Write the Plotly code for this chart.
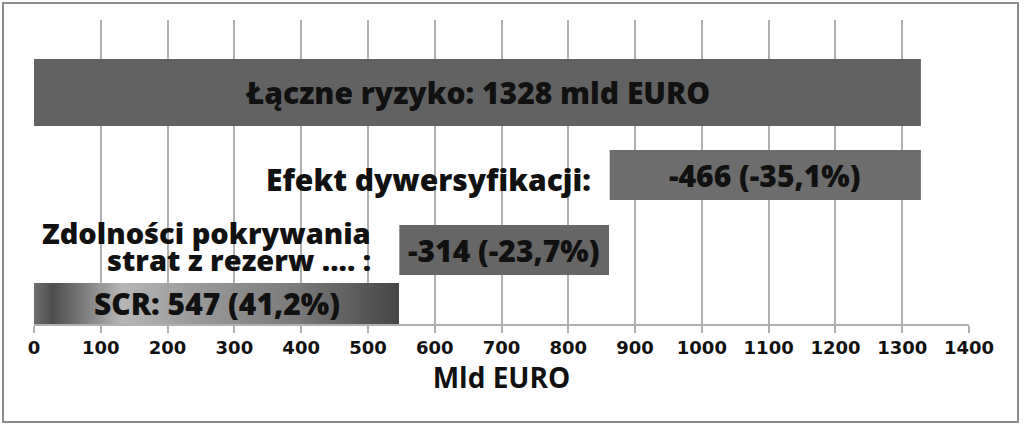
import numpy as np
import plotly.graph_objects as go

# ---- data ----
total_risk = 1328
diversification = -466
loss_absorbing = -314
scr = 547
total_label = "Łączne ryzyko: 1328 mld EURO"
div_label = "-466 (-35,1%)"
loss_label = "-314 (-23,7%)"
scr_label = "SCR: 547 (41,2%)"
div_name = "Efekt dywersyfikacji:"
loss_name_lines = ["Zdolności pokrywania", "strat z rezerw .... :"]
x_ticks = list(range(0, 1401, 100))
x_title = "Mld EURO"

# ---- layout (row positions in a pixel-like y axis, top=20, bottom=324) ----
row_pos = [92.5, 175, 250, 303.5]
row_h = [67, 50, 50, 41]
bar_colors = ["#626262", "#6d6d6d", "#666666", "rgba(0,0,0,0)"]

bases = [0, total_risk + diversification, scr, 0]
lengths = [total_risk, -diversification, -loss_absorbing, scr]
labels = [total_label, div_label, loss_label, scr_label]

BAR_FONT = dict(family="Open Sans", size=30, color="#111111", weight=800)
SIDE_FONT = dict(family="Open Sans", size=29, color="#111111", weight=800)

fig = go.Figure()

# gradient fill for SCR bar
n = 240
edges = np.linspace(0, scr, n + 1)
ramp = np.linspace(0, 1, n)
fig.add_trace(go.Heatmap(
    x=edges, y=[row_pos[3] - row_h[3] / 2, row_pos[3] + row_h[3] / 2],
    z=[ramp],
    colorscale=[[0, "#6c6c6c"], [0.05, "#4e4e4e"], [0.24, "#b6b6b6"],
                [0.45, "#999999"], [0.72, "#7a7a7a"], [1, "#464646"]],
    showscale=False, hoverinfo="skip", zmin=0, zmax=1))

fig.add_trace(go.Bar(
    orientation="h", y=row_pos, x=lengths, base=bases, width=row_h,
    marker=dict(color=bar_colors, line=dict(width=0)),
    hoverinfo="skip"))

# bar labels
for b, L, yv, lab in zip(bases, lengths, row_pos, labels):
    fig.add_annotation(x=b + L / 2, y=yv, text=lab, showarrow=False,
                       font=BAR_FONT, xanchor="center", yanchor="middle")

# outside labels
fig.add_annotation(x=bases[1], y=179, text=div_name, showarrow=False,
                   font=BAR_FONT, xanchor="right", yanchor="middle", xshift=-17)
for i, line in enumerate(loss_name_lines):
    fig.add_annotation(x=bases[2], y=232 + 27 * i, text=line, showarrow=False,
                       font=SIDE_FONT, xanchor="right", yanchor="middle", xshift=-26)

# outer frame
fig.add_shape(type="rect", xref="paper", yref="paper",
              x0=(3 - 34) / 935, x1=(1018 - 34) / 935,
              y0=(324 - 422) / 304, y1=(324 - 3) / 304,
              line=dict(color="#8c8c8c", width=2), fillcolor="rgba(0,0,0,0)", layer="below")

fig.update_layout(
    width=1023, height=425,
    margin=dict(l=34, r=54, t=20, b=101),
    paper_bgcolor="white", plot_bgcolor="white",
    showlegend=False, barmode="overlay",
    xaxis=dict(range=[0, 1400], tickvals=x_ticks, ticktext=[str(t) for t in x_ticks],
               showgrid=True, gridcolor="#b0b0b0", gridwidth=1.5,
               showline=True, linecolor="#b0b0b0", linewidth=1.5,
               ticks="outside", ticklen=7, tickcolor="#b0b0b0", tickwidth=1.5,
               tickfont=dict(family="DejaVu Sans", size=18, color="#111111", weight="bold"),
               title=dict(text=x_title, font=dict(family="Open Sans", size=28, color="#111111", weight="bold"),
                          standoff=9),
               zeroline=False, fixedrange=True, automargin=False),
    yaxis=dict(range=[324, 20], showgrid=False, showticklabels=False, zeroline=False,
               showline=False, ticks="", fixedrange=True),
)

fig.write_html("out.html", config={"displayModeBar": False},
               post_script="document.body.style.margin='0';document.body.style.overflow='hidden';")
